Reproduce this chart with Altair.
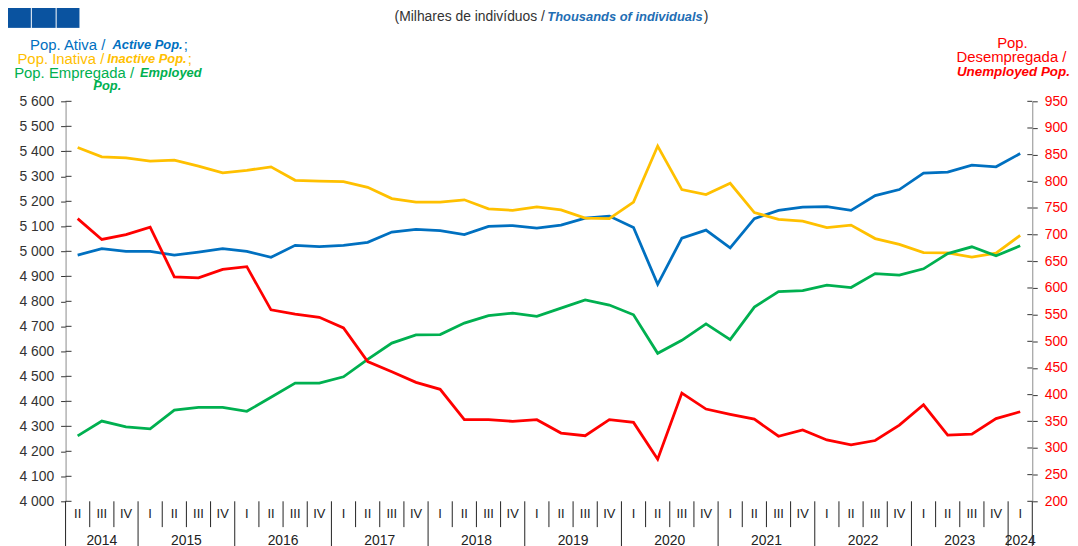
import altair as alt
import pandas as pd

# ---------------- data ----------------
quarters = ["II", "III", "IV",
            "I", "II", "III", "IV",
            "I", "II", "III", "IV",
            "I", "II", "III", "IV",
            "I", "II", "III", "IV",
            "I", "II", "III", "IV",
            "I", "II", "III", "IV",
            "I", "II", "III", "IV",
            "I", "II", "III", "IV",
            "I", "II", "III", "IV",
            "I"]
years = [2014, 2014, 2014,
         2015, 2015, 2015, 2015,
         2016, 2016, 2016, 2016,
         2017, 2017, 2017, 2017,
         2018, 2018, 2018, 2018,
         2019, 2019, 2019, 2019,
         2020, 2020, 2020, 2020,
         2021, 2021, 2021, 2021,
         2022, 2022, 2022, 2022,
         2023, 2023, 2023, 2023,
         2024]

ativa = [4985, 5011, 5000, 5000, 4985, 4997, 5011, 5000, 4976, 5024,
         5019, 5024, 5036, 5077, 5088, 5083, 5067, 5100, 5103, 5093,
         5105, 5133, 5141, 5095, 4868, 5053, 5085, 5014, 5131, 5164,
         5177, 5179, 5164, 5223, 5247, 5313, 5317, 5345, 5338, 5391]
inativa = [5415, 5378, 5374, 5361, 5365, 5341, 5314, 5324, 5338, 5284,
           5281, 5279, 5256, 5211, 5197, 5197, 5206, 5170, 5164, 5178,
           5166, 5133, 5131, 5197, 5421, 5247, 5227, 5272, 5155, 5128,
           5121, 5095, 5105, 5051, 5028, 4995, 4994, 4977, 4993, 5064]
empregada = [4262, 4321, 4298, 4290, 4365, 4376, 4376, 4360, 4416, 4473,
             4473, 4498, 4568, 4633, 4666, 4667, 4713, 4743, 4753, 4740,
             4773, 4806, 4785, 4746, 4592, 4644, 4710, 4647, 4777, 4839,
             4843, 4865, 4855, 4911, 4905, 4930, 4991, 5018, 4982, 5022]
desempregada = [730, 691, 700, 714, 621, 619, 635, 640, 559, 551,
                545, 525, 462, 443, 423, 410, 353, 353, 350, 353,
                328, 323, 353, 348, 279, 403, 373, 363, 354, 322,
                334, 315, 306, 314, 343, 381, 324, 326, 355, 368]

left_ticks = [4000, 4100, 4200, 4300, 4400, 4500, 4600, 4700, 4800,
              4900, 5000, 5100, 5200, 5300, 5400, 5500, 5600]
right_ticks = [200, 250, 300, 350, 400, 450, 500, 550, 600, 650,
               700, 750, 800, 850, 900, 950]

series_keys = ["ativa", "inativa", "empregada"]
series_colors = ["#0070C0", "#FFC000", "#00B050"]
RED = "#FF0000"
FONT = "Liberation Sans"

W, H = 974, 403

# ---------------- tables ----------------
idx = list(range(len(quarters)))
df = pd.DataFrame({"idx": idx, "q": quarters, "year": years,
                   "ativa": ativa, "inativa": inativa,
                   "empregada": empregada, "desempregada": desempregada})
left_long = df.melt(id_vars=["idx"], value_vars=series_keys,
                    var_name="series", value_name="value")

bounds = [i - 0.5 for i in idx] + [idx[-1] + 0.5]
year_bounds = [-0.5] + [i - 0.5 for i in idx[1:] if years[i] != years[i - 1]] + [idx[-1] + 0.5]
short_bounds = [b for b in bounds if b not in year_bounds]
year_df = df.groupby("year", as_index=False)["idx"].mean()
year_df["label"] = year_df["year"].astype(str)

xscale = alt.Scale(domain=[-0.5, idx[-1] + 0.5], nice=False, zero=False)
yl = alt.Scale(domain=[4000, 5600], nice=False, zero=False)
yr = alt.Scale(domain=[200, 950], nice=False, zero=False)

one = pd.DataFrame({"k": [0]})

# ---------------- layers ----------------
lines_left = alt.Chart(left_long).mark_line(strokeWidth=2.8).encode(
    x=alt.X("idx:Q", scale=xscale,
            axis=alt.Axis(title=None, labels=False, ticks=False, grid=False,
                          domainColor="#222222", domainWidth=1)),
    y=alt.Y("value:Q", scale=yl,
            axis=alt.Axis(orient="left", title=None, values=left_ticks,
                          labelExpr="replace(format(datum.value, ','), ',', ' ')",
                          tickSize=5, tickColor="#333333", domainColor="#8c8c8c",
                          labelPadding=7, labelFontSize=14, labelColor="#333333",
                          labelFont=FONT, grid=False)),
    color=alt.Color("series:N", scale=alt.Scale(domain=series_keys, range=series_colors),
                    legend=None),
    order=alt.Order("idx:Q"),
)

line_red = alt.Chart(df).mark_line(strokeWidth=2.8, color=RED).encode(
    x=alt.X("idx:Q", scale=xscale, axis=None),
    y=alt.Y("desempregada:Q", scale=yr,
            axis=alt.Axis(orient="right", title=None, values=right_ticks,
                          tickSize=5, tickColor="#333333", domainColor="#8c8c8c",
                          labelPadding=7, labelFontSize=14, labelColor=RED,
                          labelFont=FONT, grid=False)),
)

inner_left = alt.Chart(pd.DataFrame({"v": left_ticks})).mark_rule(color="#333333").encode(
    y=alt.Y("v:Q", scale=yl, axis=None), x=alt.value(0), x2=alt.value(6))
inner_right = alt.Chart(pd.DataFrame({"v": right_ticks})).mark_rule(color="#333333").encode(
    y=alt.Y("v:Q", scale=yr, axis=None), x=alt.value(W - 5), x2=alt.value(W))

sep_short = alt.Chart(pd.DataFrame({"b": short_bounds})).mark_rule(color="#222222").encode(
    x=alt.X("b:Q", scale=xscale, axis=None), y=alt.value(H), y2=alt.value(H + 26))
sep_long = alt.Chart(pd.DataFrame({"b": year_bounds})).mark_rule(color="#222222").encode(
    x=alt.X("b:Q", scale=xscale, axis=None), y=alt.value(H), y2=alt.value(H + 50))

q_labels = alt.Chart(df).mark_text(fontSize=13, font=FONT, color="#222222").encode(
    x=alt.X("idx:Q", scale=xscale, axis=None), y=alt.value(H + 13), text="q:N")
y_labels = alt.Chart(year_df).mark_text(fontSize=14, font=FONT, color="#222222").encode(
    x=alt.X("idx:Q", scale=xscale, axis=None), y=alt.value(H + 40), text="label:N")


def txt(s, x, y, color, align="left", bold=False, size=14):
    return alt.Chart(one).mark_text(
        text=s, align=align, baseline="middle", font=FONT, fontSize=size, color=color,
        fontWeight="bold" if bold else "normal",
        fontStyle="italic" if bold else "normal",
    ).encode(x=alt.value(x), y=alt.value(y))


REG, BLD = 15, 13
texts = [
    # left legend
    txt("Pop. Ativa /", 40, -57, series_colors[0], "right", size=REG),
    txt("Active Pop.", 118, -57, series_colors[0], "right", True, size=BLD),
    txt(";", 119, -57, series_colors[0], "left", size=REG),
    txt("Pop. Inativa /", 39, -43, series_colors[1], "right", size=REG),
    txt("Inactive Pop.", 122, -43, series_colors[1], "right", True, size=BLD),
    txt(";", 123, -43, series_colors[1], "left", size=REG),
    txt("Pop. Empregada /", 69, -29, series_colors[2], "right", size=REG),
    txt("Employed", 75, -29, series_colors[2], "left", True, size=BLD),
    txt("Pop.", 42, -15, series_colors[2], "center", True, size=BLD),
    # right legend
    txt("Pop.", 954, -59, RED, "center", size=REG),
    txt("Desempregada /", 953, -45, RED, "center", size=REG),
    txt("Unemployed Pop.", 955, -30, RED, "center", True, size=13.5),
    # subtitle
    txt("(Milhares de indivíduos /", 483, -85, "#333333", "right", size=14),
    txt("Thousands of individuals", 642, -85, "#1F6EB4", "right", True, size=13),
    txt(")", 643, -85, "#333333", "left", size=14),
]

logo = [
    alt.Chart(one).mark_rect(color="#0A53A0").encode(
        x=alt.value(x0), x2=alt.value(x1), y=alt.value(-96), y2=alt.value(-74))
    for x0, x1 in [(-59, -35), (-34, -10), (-9, 14)]
]

chart = alt.layer(
    sep_short, sep_long, q_labels, y_labels,
    inner_left, inner_right,
    lines_left, line_red,
    *texts, *logo,
).resolve_scale(y="independent").properties(
    width=W, height=H,
    padding={"left": 58, "top": 92, "right": 38, "bottom": 43},
    autosize=alt.AutoSizeParams(type="none"),
).configure_view(stroke=None)

chart.save("out.html", embed_options={"renderer": "svg", "actions": False})
